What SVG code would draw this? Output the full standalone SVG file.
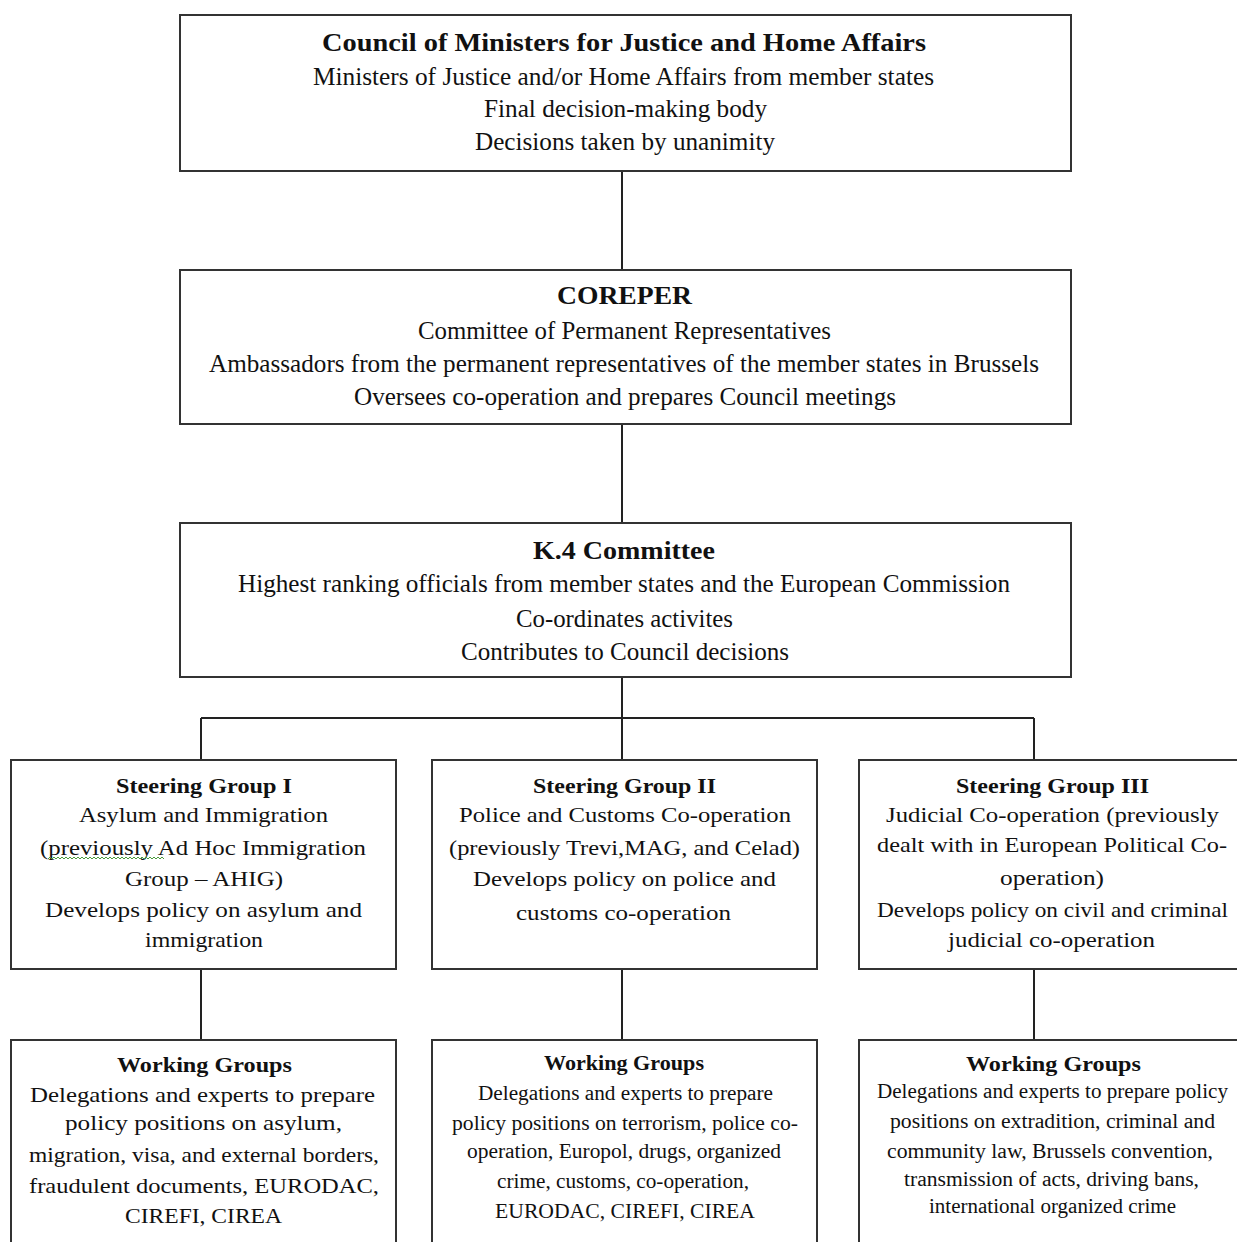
<svg xmlns="http://www.w3.org/2000/svg" width="1237" height="1242" viewBox="0 0 1237 1242">
<style>
.box{fill:#fff;stroke:#333;stroke-width:2}
.ln{stroke:#222;stroke-width:2;fill:none}
text{font-family:"Liberation Serif","Times New Roman",serif;fill:#111;text-anchor:middle}
.b{font-weight:bold}
.f25{font-size:25px}
.f22{font-size:22px}
.f20{font-size:20px}
</style>
<rect width="1237" height="1242" fill="#fff"/>
<g id="connectors">
<path class="ln" d="M622 171V270M622 424V523M622 677V760M201 718H1034M201 718V760M1034 718V760M201 969V1040M622 969V1040M1034 969V1040"/>
</g>
<g id="council">
<rect class="box" x="180" y="15" width="891" height="156"/>
<text class="f25 b" x="624" y="51" textLength="604" lengthAdjust="spacingAndGlyphs">Council of Ministers for Justice and Home Affairs</text>
<text class="f25" x="623.5" y="85" textLength="621" lengthAdjust="spacingAndGlyphs">Ministers of Justice and/or Home Affairs from member states</text>
<text class="f25" x="625.5" y="117" textLength="283" lengthAdjust="spacingAndGlyphs">Final decision-making body</text>
<text class="f25" x="625" y="150" textLength="300" lengthAdjust="spacingAndGlyphs">Decisions taken by unanimity</text>
</g>
<g id="coreper">
<rect class="box" x="180" y="270" width="891" height="154"/>
<text class="f25 b" x="624.5" y="304" textLength="135" lengthAdjust="spacingAndGlyphs">COREPER</text>
<text class="f25" x="624.5" y="339" textLength="413" lengthAdjust="spacingAndGlyphs">Committee of Permanent Representatives</text>
<text class="f25" x="624" y="372" textLength="830" lengthAdjust="spacingAndGlyphs">Ambassadors from the permanent representatives of the member states in Brussels</text>
<text class="f25" x="625" y="405" textLength="542" lengthAdjust="spacingAndGlyphs">Oversees co-operation and prepares Council meetings</text>
</g>
<g id="k4">
<rect class="box" x="180" y="523" width="891" height="154"/>
<text class="f25 b" x="624" y="559" textLength="182" lengthAdjust="spacingAndGlyphs">K.4 Committee</text>
<text class="f25" x="624" y="592" textLength="772" lengthAdjust="spacingAndGlyphs">Highest ranking officials from member states and the European Commission</text>
<text class="f25" x="624.5" y="627" textLength="217" lengthAdjust="spacingAndGlyphs">Co-ordinates activites</text>
<text class="f25" x="625" y="660" textLength="328" lengthAdjust="spacingAndGlyphs">Contributes to Council decisions</text>
</g>
<g id="sg1">
<rect class="box" x="11" y="760" width="385" height="209"/>
<text class="f22 b" x="204" y="793" textLength="176" lengthAdjust="spacingAndGlyphs">Steering Group I</text>
<text class="f22" x="203.5" y="822" textLength="249" lengthAdjust="spacingAndGlyphs">Asylum and Immigration</text>
<text class="f22" x="203" y="855" textLength="326" lengthAdjust="spacingAndGlyphs">(previously Ad Hoc Immigration</text>
<path d="M48 859l2-2 2 2 2-2 2 2 2-2 2 2 2-2 2 2 2-2 2 2 2-2 2 2 2-2 2 2 2-2 2 2 2-2 2 2 2-2 2 2 2-2 2 2 2-2 2 2 2-2 2 2 2-2 2 2 2-2 2 2 2-2 2 2 2-2 2 2 2-2 2 2 2-2 2 2 2-2 2 2 2-2 2 2 2-2 2 2 2-2 2 2 2-2 2 2 2-2 2 2 2-2 2 2 2-2 2 2 2-2 2 2 2-2 2 2" fill="none" stroke="#4a9a3a" stroke-width="1"/>
<text class="f22" x="204" y="886" textLength="158" lengthAdjust="spacingAndGlyphs">Group – AHIG)</text>
<text class="f22" x="203.5" y="917" textLength="317" lengthAdjust="spacingAndGlyphs">Develops policy on asylum and</text>
<text class="f22" x="204" y="947" textLength="118" lengthAdjust="spacingAndGlyphs">immigration</text>
</g>
<g id="sg2">
<rect class="box" x="432" y="760" width="385" height="209"/>
<text class="f22 b" x="624.5" y="793" textLength="183" lengthAdjust="spacingAndGlyphs">Steering Group II</text>
<text class="f22" x="625" y="822" textLength="332" lengthAdjust="spacingAndGlyphs">Police and Customs Co-operation</text>
<text class="f22" x="624.5" y="855" textLength="351" lengthAdjust="spacingAndGlyphs">(previously Trevi,MAG, and Celad)</text>
<text class="f22" x="624.5" y="886" textLength="303" lengthAdjust="spacingAndGlyphs">Develops policy on police and</text>
<text class="f22" x="623.5" y="920" textLength="215" lengthAdjust="spacingAndGlyphs">customs co-operation</text>
</g>
<g id="sg3">
<rect class="box" x="859" y="760" width="390" height="209"/>
<text class="f22 b" x="1052.5" y="793" textLength="193" lengthAdjust="spacingAndGlyphs">Steering Group III</text>
<text class="f22" x="1052.5" y="822" textLength="333" lengthAdjust="spacingAndGlyphs">Judicial Co-operation (previously</text>
<text class="f22" x="1052" y="852" textLength="350" lengthAdjust="spacingAndGlyphs">dealt with in European Political Co-</text>
<text class="f22" x="1052" y="885" textLength="104" lengthAdjust="spacingAndGlyphs">operation)</text>
<text class="f22" x="1052.5" y="917" textLength="351" lengthAdjust="spacingAndGlyphs">Develops policy on civil and criminal</text>
<text class="f22" x="1051.5" y="947" textLength="207" lengthAdjust="spacingAndGlyphs">judicial co-operation</text>
</g>
<g id="wg1">
<rect class="box" x="11" y="1040" width="385" height="215"/>
<text class="f22 b" x="204.5" y="1072" textLength="175" lengthAdjust="spacingAndGlyphs">Working Groups</text>
<text class="f22" x="202.5" y="1102" textLength="345" lengthAdjust="spacingAndGlyphs">Delegations and experts to prepare</text>
<text class="f22" x="203.5" y="1130" textLength="277" lengthAdjust="spacingAndGlyphs">policy positions on asylum,</text>
<text class="f22" x="204" y="1162" textLength="350" lengthAdjust="spacingAndGlyphs">migration, visa, and external borders,</text>
<text class="f22" x="204" y="1193" textLength="350" lengthAdjust="spacingAndGlyphs">fraudulent documents, EURODAC,</text>
<text class="f22" x="203.5" y="1223" textLength="157" lengthAdjust="spacingAndGlyphs">CIREFI, CIREA</text>
</g>
<g id="wg2">
<rect class="box" x="432" y="1040" width="385" height="215"/>
<text class="f20 b" x="624" y="1070" textLength="160" lengthAdjust="spacingAndGlyphs">Working Groups</text>
<text class="f20" x="625.5" y="1100" textLength="295" lengthAdjust="spacingAndGlyphs">Delegations and experts to prepare</text>
<text class="f20" x="625" y="1130" textLength="346" lengthAdjust="spacingAndGlyphs">policy positions on terrorism, police co-</text>
<text class="f20" x="624" y="1158" textLength="314" lengthAdjust="spacingAndGlyphs">operation, Europol, drugs, organized</text>
<text class="f20" x="623" y="1188" textLength="252" lengthAdjust="spacingAndGlyphs">crime, customs, co-operation,</text>
<text class="f20" x="625" y="1218" textLength="260" lengthAdjust="spacingAndGlyphs">EURODAC, CIREFI, CIREA</text>
</g>
<g id="wg3">
<rect class="box" x="859" y="1040" width="390" height="215"/>
<text class="f22 b" x="1053.5" y="1071" textLength="175" lengthAdjust="spacingAndGlyphs">Working Groups</text>
<text class="f20" x="1052.5" y="1098" textLength="351" lengthAdjust="spacingAndGlyphs">Delegations and experts to prepare policy</text>
<text class="f20" x="1052.5" y="1128" textLength="325" lengthAdjust="spacingAndGlyphs">positions on extradition, criminal and</text>
<text class="f20" x="1050" y="1158" textLength="326" lengthAdjust="spacingAndGlyphs">community law, Brussels convention,</text>
<text class="f20" x="1051.5" y="1186" textLength="295" lengthAdjust="spacingAndGlyphs">transmission of acts, driving bans,</text>
<text class="f20" x="1052.5" y="1213" textLength="247" lengthAdjust="spacingAndGlyphs">international organized crime</text>
</g>
</svg>
